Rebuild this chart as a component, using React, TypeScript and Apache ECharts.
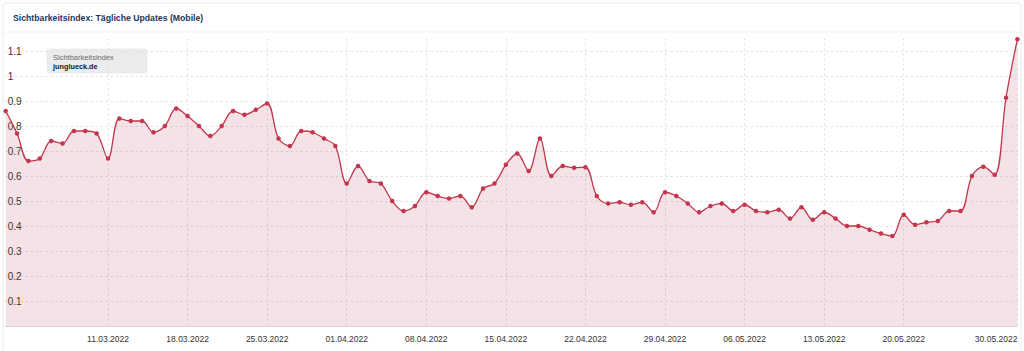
import React, { useEffect, useRef } from "react";
import * as echarts from "echarts";

const TITLE = "Sichtbarkeitsindex: Tägliche Updates (Mobile)";
const LEGEND_LABEL = "Sichtbarkeitsindex";
const DOMAIN = "junglueck.de";

// 02.03.2022 – 30.05.2022, daily
const monthSpans: [number, number, number][] = [
  [3, 2, 31],
  [4, 1, 30],
  [5, 1, 30],
];
const dates: string[] = [];
monthSpans.forEach(([m, from, to]) => {
  for (let d = from; d <= to; d++) {
    dates.push(`${String(d).padStart(2, "0")}.${String(m).padStart(2, "0")}.2022`);
  }
});

const values: number[] = [
  0.86, 0.77, 0.66, 0.67, 0.74, 0.73, 0.78, 0.78, 0.77, 0.67,
  0.83, 0.82, 0.82, 0.775, 0.8, 0.87, 0.84, 0.8, 0.76, 0.8,
  0.86, 0.845, 0.865, 0.89, 0.75, 0.72, 0.78, 0.775, 0.75, 0.72,
  0.57, 0.64, 0.58, 0.57, 0.5, 0.46, 0.48, 0.535, 0.52, 0.51,
  0.52, 0.475, 0.55, 0.57, 0.645, 0.69, 0.62, 0.75, 0.6, 0.64,
  0.633, 0.635, 0.52, 0.49, 0.495, 0.485, 0.495, 0.455, 0.535, 0.52,
  0.49, 0.455, 0.48, 0.49, 0.46, 0.485, 0.46, 0.455, 0.465, 0.43,
  0.475, 0.425, 0.455, 0.43, 0.4, 0.4, 0.385, 0.37, 0.36, 0.445,
  0.405, 0.415, 0.42, 0.46, 0.46, 0.6, 0.637, 0.605, 0.913, 1.147,
];

// indices of shown x labels / vertical grid lines
const labelIdx: number[] = [9, 16, 23, 30, 37, 44, 51, 58, 65, 72, 79, 89];

const LINE = "#c4364d";

export default function App() {
  const ref = useRef<HTMLDivElement>(null);
  useEffect(() => {
    if (!ref.current) return;
    const chart = echarts.init(ref.current, null, { renderer: "svg" });
    const showIdx = (i: number) => labelIdx.indexOf(i) >= 0;
    chart.setOption({
      animation: false,
      backgroundColor: "#ffffff",
      grid: { left: 5.7, right: 6.6, top: 38.5, bottom: 25, containLabel: false, outerBoundsMode: "none" },
      graphic: [
        {
          type: "rect",
          shape: { x: 3, y: 3, width: 1018, height: 360, r: 3 },
          style: { fill: "none", stroke: "#ececec", lineWidth: 1 },
          silent: true,
          z: -10,
        },
        {
          type: "line",
          shape: { x1: 3, y1: 32, x2: 1021, y2: 32 },
          style: { stroke: "#f0f0f0", lineWidth: 1 },
          silent: true,
        },
        {
          type: "text",
          x: 13,
          y: 18,
          style: {
            text: TITLE,
            fill: "#1b3561",
            font: "bold 8.7px 'Liberation Sans', Arial, sans-serif",
            textVerticalAlign: "middle",
          },
        },
        {
          type: "group",
          z: 100,
          children: [
            {
              type: "rect",
              shape: { x: 47, y: 49, width: 100, height: 24, r: 2 },
              style: { fill: "#ececec", stroke: "#e2e2e2", lineWidth: 0.5 },
            },
            {
              type: "text",
              x: 53,
              y: 57,
              style: {
                text: LEGEND_LABEL,
                fill: "#6b6b6b",
                font: "7.5px 'Liberation Sans', Arial, sans-serif",
                textVerticalAlign: "middle",
              },
            },
            {
              type: "text",
              x: 53,
              y: 66.5,
              style: {
                text: DOMAIN,
                fill: "#1a1a1a",
                font: "bold 7.3px 'Liberation Sans', Arial, sans-serif",
                textVerticalAlign: "middle",
              },
            },
          ],
        },
      ],
      xAxis: {
        type: "category",
        data: dates,
        boundaryGap: false,
        axisLine: { show: true, lineStyle: { color: "#d6d6d6", width: 1 } },
        axisTick: { show: false },
        axisLabel: {
          interval: (i: number) => showIdx(i),
          color: "#333333",
          fontSize: 8.5,
          fontFamily: "'Liberation Sans', Arial, sans-serif",
          margin: 8,
          alignMaxLabel: "right",
        },
        splitLine: {
          show: true,
          interval: (i: number) => showIdx(i),
          lineStyle: { color: "#dedede", type: [2, 3], width: 1 },
        },
      },
      yAxis: {
        type: "value",
        min: 0,
        max: 1.15,
        interval: 0.1,
        axisLine: { show: false },
        axisTick: { show: false },
        axisLabel: {
          inside: true,
          margin: 2,
          color: "#333333",
          fontSize: 10,
          fontFamily: "'Liberation Sans', Arial, sans-serif",
          showMaxLabel: false,
          showMinLabel: false,
          formatter: (v: number) => (v <= 0 || v > 1.1001 ? "" : String(Number(v.toFixed(2)))),
        },
        splitLine: {
          show: true,
          showMaxLine: false,
          lineStyle: { color: "#dedede", type: [2, 3], width: 1 },
        },
      },
      series: [
        {
          type: "line",
          data: values,
          smooth: 0.35,
          symbol: "circle",
          symbolSize: 4.5,
          itemStyle: { color: LINE },
          lineStyle: { color: LINE, width: 1.3 },
          areaStyle: { color: "rgba(180, 60, 80, 0.2)" },
          z: 5,
        },
      ],
    });
    return () => chart.dispose();
  }, []);
  return (
    <div
      ref={ref}
      style={{ position: "absolute", left: 0, top: 0, width: 1024, height: 351 }}
    />
  );
}
